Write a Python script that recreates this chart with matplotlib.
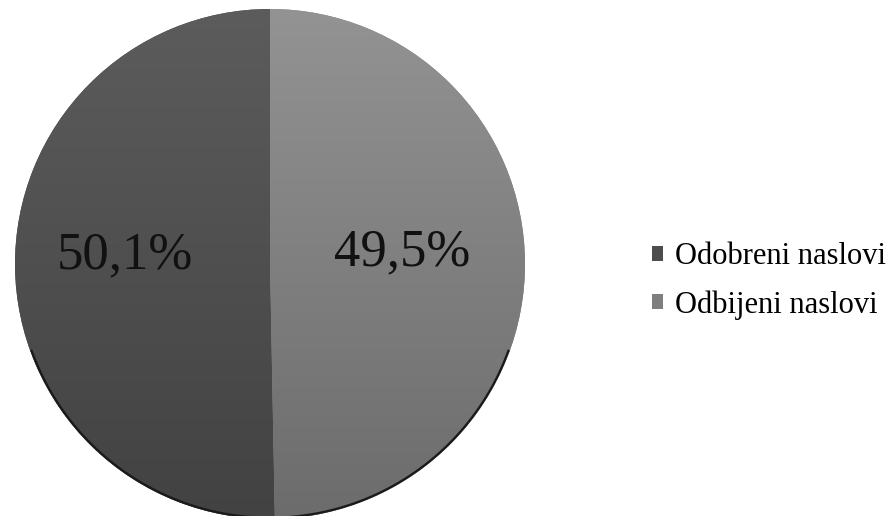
import numpy as np
import matplotlib
matplotlib.use('Agg')
import matplotlib.pyplot as plt
from matplotlib.colors import LinearSegmentedColormap
from matplotlib.patches import Patch

# Data
categories = ['Odobreni naslovi', 'Odbijeni naslovi']
shares = [50.1, 49.5]
share_labels = ['50,1%', '49,5%']

# top / bottom shades of each slice (vertical gradient)
shade_top = ['#5c5c5c', '#939393']
shade_bottom = ['#424242', '#6c6c6c']
legend_colors = ['#4d4d4d', '#7f7f7f']
label_dist = [0.57, 0.52]

W, H = 893, 516
fig = plt.figure(figsize=(W / 100, H / 100), dpi=100)
fig.patch.set_facecolor('white')

cx, cy_top, r = 270, 264, 255
cy = H - cy_top
ax = fig.add_axes([(cx - r) / W, (cy - r) / H, 2 * r / W, 2 * r / H])
ax.set_aspect('equal')

wedges, _ = ax.pie(shares, startangle=90, counterclock=True,
                   colors=legend_colors, wedgeprops=dict(linewidth=0))

# gradient fill clipped to each wedge
for w, c0, c1 in zip(wedges, shade_top, shade_bottom):
    cmap = LinearSegmentedColormap.from_list('g', [c1, c0])
    grad = np.linspace(0, 1, 256).reshape(-1, 1)
    im = ax.imshow(grad, cmap=cmap, extent=[-1, 1, -1, 1], origin='lower',
                   aspect='auto', zorder=w.get_zorder() + 0.1)
    im.set_clip_path(w)

# percentage labels at each wedge's middle angle
for w, lab, d in zip(wedges, share_labels, label_dist):
    mid = np.radians((w.theta1 + w.theta2) / 2)
    ax.text(d * np.cos(mid), d * np.sin(mid) + 0.04, lab, ha='center', va='center',
            family='Liberation Serif', fontsize=38, color='#111111', zorder=5)

# dark rim at the bottom of the pie
theta = np.linspace(np.radians(200), np.radians(340), 200)
ax.plot(np.cos(theta) * 0.995, np.sin(theta) * 0.995, color='#1a1a1a', lw=1.6, zorder=4)

ax.set_xlim(-1, 1)
ax.set_ylim(-1, 1)
ax.axis('off')

handles = [Patch(facecolor=c, edgecolor='none') for c in legend_colors]
fig.legend(handles, categories, loc='center left', bbox_to_anchor=(652 / W, 1 - 281 / H),
           frameon=False, prop=dict(family='Liberation Serif', size=22),
           handlelength=0.36, handleheight=0.36, handletextpad=0.4, labelspacing=0.62,
           borderaxespad=0, borderpad=0)

fig.savefig('out.png', dpi=100)
